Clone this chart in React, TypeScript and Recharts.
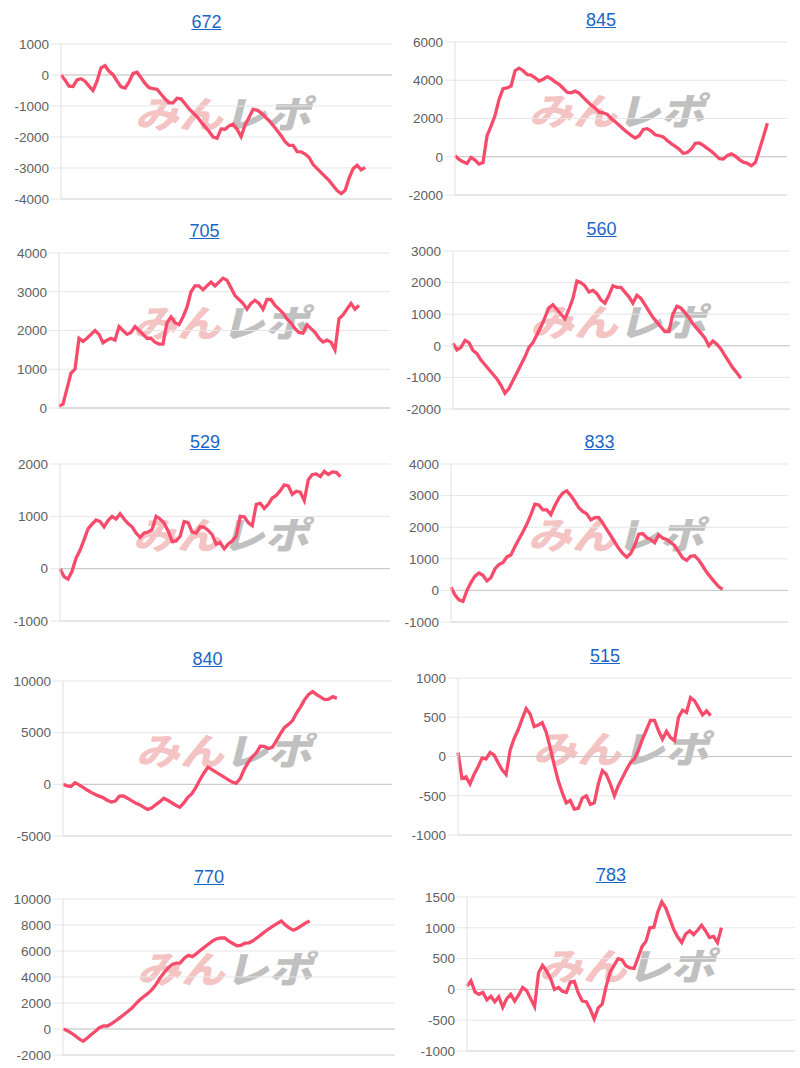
import { LineChart, Line, XAxis, YAxis, CartesianGrid, ReferenceLine } from 'recharts';

// cumulative result per machine
const d672 = [
  0, -160, -360, -370, -160, -120, -200, -360, -500, -200, 230, 300, 120, 10, -200, -380, -420, -220, 50, 90,
  -90, -270, -410, -440, -460, -620, -770, -900, -900, -750, -770, -930, -1090, -1220, -1350, -1515, -1665, -1820, -2000, -2040,
  -1740, -1750, -1640, -1580, -1750, -1990, -1610, -1360, -1110, -1130, -1220, -1350, -1475, -1630, -1790, -1960, -2150, -2270, -2270, -2475,
  -2480, -2550, -2660, -2890, -3020, -3150, -3280, -3410, -3570, -3730, -3830, -3720, -3320, -3020, -2910, -3060, -2980,
];
const d845 = [
  60, -140, -260, -350, -35, -175, -385, -300, 1100, 1600, 2150, 3000, 3560, 3600, 3700, 4500, 4630, 4500, 4300, 4270,
  4130, 3960, 4050, 4190, 4080, 3920, 3790, 3580, 3370, 3340, 3430, 3330, 3100, 2900, 2700, 2540, 2330, 2300, 2220, 2000,
  1830, 1650, 1450, 1280, 1120, 980, 1100, 1430, 1470, 1340, 1150, 1100, 1030, 850, 690, 540, 390, 180, 220, 400,
  700, 720, 590, 440, 290, 100, -100, -120, 60, 150, 30, -150, -280, -340, -470, -300, 350, 1050, 1750,
];
const d705 = [
  50, 100, 500, 900, 1000, 1800, 1720, 1800, 1900, 2000, 1900, 1680, 1750, 1800, 1750, 2100, 2000, 1900, 1950, 2100,
  2000, 1900, 1800, 1800, 1700, 1650, 1650, 2200, 2350, 2200, 2150, 2350, 2600, 3000, 3150, 3150, 3050, 3150, 3250, 3150,
  3250, 3350, 3300, 3100, 2900, 2800, 2700, 2550, 2700, 2780, 2700, 2550, 2800, 2800, 2650, 2550, 2450, 2300, 2200, 2050,
  1950, 1930, 2150, 2050, 1950, 1800, 1700, 1750, 1700, 1500, 2300, 2400, 2550, 2700, 2550, 2650,
];
const d560 = [
  80, -130, -50, 170, 100, -150, -250, -450, -600, -750, -900, -1050, -1250, -1500, -1350, -1100, -850, -600, -350, -50,
  100, 350, 600, 900, 1200, 1300, 1150, 1000, 850, 1150, 1500, 2050, 2000, 1900, 1700, 1750, 1650, 1450, 1350, 1600,
  1900, 1850, 1850, 1700, 1550, 1350, 1600, 1500, 1300, 1100, 900, 750, 600, 450, 450, 1000, 1250, 1200, 1050, 900,
  700, 550, 400, 250, 0, 150, 50, -100, -300, -500, -700, -850, -1030,
];
const d529 = [
  0, -150, -200, -50, 200, 350, 550, 760, 850, 930, 900, 800, 920, 1000, 950, 1050, 950, 860, 800, 680,
  600, 680, 700, 750, 1000, 950, 870, 720, 520, 530, 620, 900, 880, 700, 680, 800, 790, 730, 650, 470,
  500, 380, 470, 530, 620, 1000, 990, 880, 820, 1230, 1250, 1150, 1230, 1350, 1400, 1490, 1600, 1580, 1420, 1480,
  1460, 1300, 1700, 1800, 1810, 1760, 1860, 1800, 1850, 1840, 1760,
];
const d833 = [
  100, -150, -300, -350, 0, 250, 450, 550, 480, 300, 400, 680, 820, 880, 1060, 1120, 1380, 1620, 1850, 2100,
  2400, 2730, 2700, 2550, 2550, 2400, 2680, 2920, 3080, 3150, 3000, 2820, 2620, 2500, 2420, 2230, 2300, 2310, 2130, 1930,
  1730, 1530, 1330, 1170, 1050, 1170, 1420, 1780, 1800, 1670, 1610, 1510, 1760, 1660, 1610, 1520, 1420, 1230, 1030, 950,
  1080, 1100, 970, 780, 580, 420, 270, 120, 30,
];
const d840 = [
  0, -150, -200, 150, -50, -300, -550, -780, -980, -1140, -1300, -1540, -1720, -1620, -1150, -1130, -1340, -1580, -1800, -1970,
  -2200, -2420, -2300, -1980, -1700, -1350, -1540, -1780, -2020, -2220, -1800, -1250, -900, -300, 450, 1100, 1660, 1420, 1180, 940,
  700, 460, 220, 100, 550, 1450, 2150, 2650, 3050, 3700, 3680, 3450, 3600, 4230, 4900, 5500, 5800, 6170, 6900, 7500,
  8200, 8700, 8980, 8680, 8440, 8200, 8240, 8480, 8320,
];
const d515 = [
  50, -280, -260, -350, -230, -130, -20, -30, 50, 20, -80, -170, -230, 80, 230, 340, 480, 610, 540, 380,
  400, 430, 310, 110, -110, -310, -460, -590, -560, -670, -660, -530, -500, -610, -590, -350, -180, -230, -350, -500,
  -370, -270, -170, -80, -30, 80, 220, 340, 460, 460, 330, 220, 320, 240, 200, 500, 590, 560, 750, 710,
  620, 530, 580, 520,
];
const d770 = [
  0, -120, -300, -520, -760, -950, -700, -420, -180, 100, 230, 230, 420, 620, 860, 1100, 1340, 1600, 1930, 2250,
  2500, 2740, 3030, 3430, 3920, 4330, 4690, 4970, 5070, 5090, 5450, 5660, 5570, 5800, 6060, 6300, 6540, 6780, 6940, 7000,
  7000, 6760, 6580, 6400, 6440, 6600, 6630, 6790, 7020, 7260, 7500, 7730, 7930, 8130, 8300, 8000, 7760, 7600, 7750, 7950,
  8150, 8300,
];
const d783 = [
  50, 140, -40, -80, -50, -170, -110, -200, -120, -290, -150, -80, -190, -90, 30, -20, -150, -280, 270, 390,
  300, 180, 0, 30, -30, -50, 120, 130, -60, -190, -200, -320, -480, -300, -240, 50, 280, 390, 500, 480,
  380, 350, 340, 510, 690, 780, 1000, 1010, 1260, 1420, 1320, 1150, 970, 850, 760, 900, 950, 890, 960, 1040,
  950, 840, 860, 760, 1000,
];

const titles = ['672', '845', '705', '560', '529', '833', '840', '515', '770', '783'];
const series = [d672, d845, d705, d560, d529, d833, d840, d515, d770, d783];
const yTicks = [
  [-4000, -3000, -2000, -1000, 0, 1000],
  [-2000, 0, 2000, 4000, 6000],
  [0, 1000, 2000, 3000, 4000],
  [-2000, -1000, 0, 1000, 2000, 3000],
  [-1000, 0, 1000, 2000],
  [-1000, 0, 1000, 2000, 3000, 4000],
  [-5000, 0, 5000, 10000],
  [-1000, -500, 0, 500, 1000],
  [-2000, 0, 2000, 4000, 6000, 8000, 10000],
  [-1000, -500, 0, 500, 1000, 1500],
];
// length of the x axis in games
const xMax = [82.7, 82.9, 82.75, 84.3, 82.4, 84.4, 81.7, 83.3, 82.1, 82.5];

// plot boxes inside each 400x215 cell: left, right, top, bottom
const boxes = [
  [61, 392, 44, 199],
  [55, 387, 42, 195],
  [59, 390, 38, 193],
  [53, 390, 36, 194],
  [60, 390, 34, 191],
  [51, 388, 34, 192],
  [63, 392, 36, 191],
  [58, 392, 33, 190],
  [63, 395, 39, 195],
  [67, 395, 37, 191],
];

const FONT = '"Liberation Sans", Arial, Helvetica, sans-serif';
const W = 400;
const H = 215;

function MiniChart({ idx }: { idx: number }) {
  const data = series[idx].map((v, i) => ({ i, v }));
  const ticks = yTicks[idx];
  const [left, right, top, bottom] = boxes[idx];
  const cx = (left + right) / 2;
  const cy = (top + bottom) / 2 - 10;
  const col = idx % 2;
  const row = Math.floor(idx / 2);

  return (
    <div style={{ position: 'absolute', left: col * 400, top: row * 215, width: W, height: H }}>
      <div
        style={{
          position: 'absolute',
          left: cx - 20 - 100,
          top: top - 32,
          width: 200,
          lineHeight: '20px',
          textAlign: 'center',
          fontFamily: FONT,
          fontSize: 18,
        }}
      >
        <a style={{ color: '#1a66c6', textDecoration: 'underline' }}>{titles[idx]}</a>
      </div>

      {/* watermark */}
      <div
        style={{
          position: 'absolute',
          left: cx - 110,
          top: cy - 23,
          width: 220,
          height: 46,
          lineHeight: '46px',
          textAlign: 'center',
          fontFamily: '"Noto Sans CJK JP", sans-serif',
          fontWeight: 900,
          fontSize: 44,
          letterSpacing: 0,
          transform: 'skewX(-14deg) scaleY(0.85)',
          whiteSpace: 'nowrap',
        }}
      >
        <span style={{ color: 'rgba(232, 120, 120, 0.45)' }}>みん</span>
        <span style={{ color: 'rgba(150, 150, 150, 0.6)' }}>レポ</span>
      </div>

      <div style={{ position: 'absolute', left: 0, top: 0 }}>
        <LineChart
          width={W}
          height={H}
          data={data}
          margin={{ top, right: W - right, bottom: H - bottom, left: 0 }}
        >
          <CartesianGrid vertical={false} stroke="#e6e6e6" />
          <XAxis type="number" dataKey="i" domain={[0, xMax[idx]]} hide />
          <YAxis
            type="number"
            width={left}
            domain={[ticks[0], ticks[ticks.length - 1]]}
            ticks={ticks}
            interval={0}
            allowDataOverflow
            axisLine={{ stroke: '#e0e0e0' }}
            tickLine={{ stroke: '#e6e6e6' }}
            tickSize={10}
            tickMargin={2}
            tick={{ fill: '#606060', fontSize: 13.5, fontFamily: FONT }}
          />
          <ReferenceLine y={0} stroke="#c6c6c6" />
          <ReferenceLine y={ticks[0]} stroke="#dadada" />
          <Line
            type="linear"
            dataKey="v"
            stroke="#f74b6c"
            strokeWidth={3.3}
            dot={false}
            isAnimationActive={false}
          />
        </LineChart>
      </div>
    </div>
  );
}

export default function App() {
  return (
    <div
      style={{
        position: 'absolute',
        left: 0,
        top: 0,
        width: 800,
        height: 1068,
        overflow: 'hidden',
        background: '#fff',
      }}
    >
      {titles.map((_, i) => (
        <MiniChart key={i} idx={i} />
      ))}
    </div>
  );
}
